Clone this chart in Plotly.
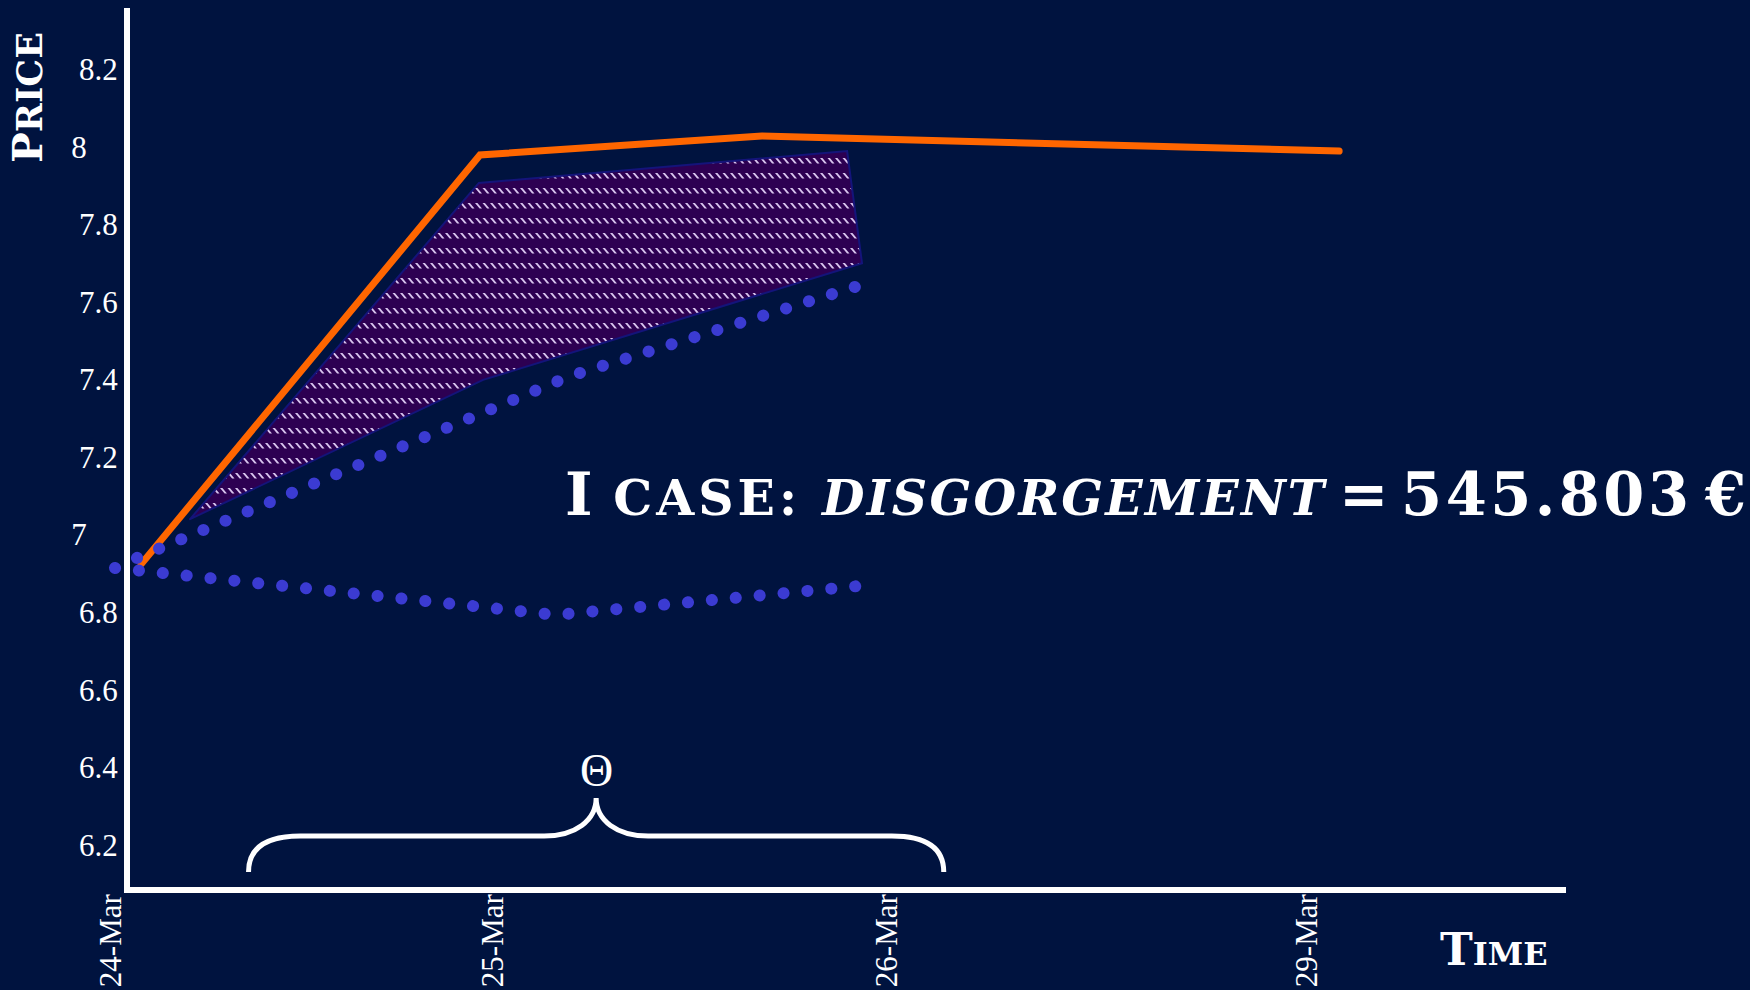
import plotly.graph_objects as go

# ---------------- data ----------------
time_tick_pos = [0.0, 1.0, 2.03, 3.13]
time_tick_text = ["24-Mar", "25-Mar", "26-Mar", "29-Mar"]

price_ticks = [6.2, 6.4, 6.6, 6.8, 7.0, 7.2, 7.4, 7.6, 7.8, 8.0, 8.2]
NB = "\u00a0" * 4  # the whole-number labels sit further left in the reference
price_tick_text = ["6.2", "6.4", "6.6", "6.8", "7" + NB, "7.2", "7.4", "7.6", "7.8", "8" + NB, "8.2"]

price_x = [0.079, 0.966, 1.704, 3.215]
price_y = [6.924, 7.979, 8.028, 7.989]

band_x = [0.207, 0.963, 1.927, 1.966, 0.974, 0.207]
band_y = [7.040, 7.907, 7.989, 7.700, 7.399, 7.040]

upper_x = [0.068, 1.202, 1.997]
upper_y = [6.940, 7.409, 7.654]

lower_x = [0.0105, 1.165, 1.984]
lower_y = [6.914, 6.793, 6.870]

theta_window = [0.36, 2.18]
theta_label = "Θ"
disgorgement_value = 545.803

# ---------------- styling ----------------
BG = "#00133f"
ORANGE = "#ff6600"
DOT = "#3b3bd2"
PURPLE = "#2d0052"
HATCH = "#d8c4ee"
W, H = 1750, 990
ML, MR, MT, MB = 100, 184, 8, 103
PW = W - ML - MR
PH = H - MT - MB


def px_x(px):
    return (px - ML) / PW


def px_y(py):
    return (H - MB - py) / PH


fig = go.Figure()

# empty trace so the baseline axis (x2) gets its subplot (drawn first, underneath)
fig.add_trace(go.Scatter(x=[], y=[], xaxis="x2", yaxis="y", showlegend=False, hoverinfo="skip"))

# hatched band: rows of short "\" dashes on purple
dash_tile = "M0,0 h2.4 l4.6,5.5 h-2.4 Z M7.5,0 h2.4 l4.6,5.5 h-2.4 Z"
fig.add_trace(go.Scatter(
    x=band_x, y=band_y, mode="lines", fill="toself", fillcolor=PURPLE,
    line=dict(color="#14147a", width=2),
    fillpattern=dict(path=dash_tile, size=15, fgcolor=HATCH, bgcolor=PURPLE, fgopacity=1),
    hoverinfo="skip", showlegend=False))

fig.add_trace(go.Scatter(
    x=price_x, y=price_y, mode="lines",
    line=dict(color=ORANGE, width=7), showlegend=False))

for xs, ys in ((upper_x, upper_y), (lower_x, lower_y)):
    fig.add_trace(go.Scatter(
        x=xs, y=ys, mode="lines",
        line=dict(color=DOT, width=12, dash="0.1px,23.9px"), showlegend=False))

# brace spanning the theta window
x0, x1 = theta_window
xc = (x0 + x1) / 2
yb, ym, yt = 6.130, 6.223, 6.321
c = 0.136
brace = (f"M {x0},{yb} Q {x0},{ym} {x0 + c},{ym} L {xc - c},{ym} "
         f"C {xc - 0.055},{ym} {xc},{ym + 0.04} {xc},{yt} "
         f"C {xc},{ym + 0.04} {xc + 0.055},{ym} {xc + c},{ym} "
         f"L {x1 - c},{ym} Q {x1},{ym} {x1},{yb}")
fig.add_shape(type="path", path=brace, xref="x", yref="y",
              line=dict(color="white", width=5))

fig.add_annotation(x=xc, y=6.391, xref="x", yref="y", text=theta_label,
                   showarrow=False, font=dict(family="Liberation Serif", size=46, color="white"))

fig.add_annotation(
    x=px_x(1155), y=px_y(495), xref="paper", yref="paper", xanchor="center", yanchor="middle",
    text=("<b>I <span style='font-size:49px;letter-spacing:4px'>CASE: </span>"
          "<i><span style='font-size:49px;letter-spacing:2.2px'>DISGORGEMENT</span></i>"
          "<span style='font-size:36px'> </span>=<span style='font-size:36px'> </span>"
          f"<span style='letter-spacing:3.5px'>{disgorgement_value:.3f}</span>"
          "<span style='font-size:36px'> </span>€</b>"),
    showarrow=False, font=dict(family="DejaVu Serif", size=59, color="white"))

fig.add_annotation(
    x=px_x(28), y=px_y(98), xref="paper", yref="paper", xanchor="center", yanchor="middle",
    textangle=-90, text="<b>P<span style='font-size:35px'>RICE</span></b>",
    showarrow=False, font=dict(family="DejaVu Serif", size=41, color="white"))

fig.add_annotation(
    x=px_x(1494), y=px_y(949), xref="paper", yref="paper", xanchor="center", yanchor="middle",
    text="<b>T<span style='font-size:32px'>IME</span></b>",
    showarrow=False, font=dict(family="DejaVu Serif", size=44, color="white"))

fig.update_layout(
    width=W, height=H,
    margin=dict(l=ML, r=MR, t=MT, b=MB, pad=0),
    paper_bgcolor=BG, plot_bgcolor="rgba(0,0,0,0)",
    showlegend=False,
    xaxis=dict(
        range=[(ML - 111) / 382, (W - MR - 111) / 382], automargin=False,
        tickmode="array", tickvals=time_tick_pos, ticktext=time_tick_text,
        tickangle=-90, tickfont=dict(family="Liberation Serif", size=31, color="white"),
        ticklabelstandoff=0,
        showline=False, ticks="", showgrid=False, zeroline=False),
    # axis carrying only the bottom baseline, starting at the price axis
    xaxis2=dict(
        domain=[px_x(124), 1], anchor="y", range=[0, 1], automargin=False,
        showline=True, linecolor="white", linewidth=6, ticks="",
        showticklabels=False, showgrid=False, zeroline=False),
    yaxis=dict(
        range=[6.0914, 8.358], anchor="free", position=px_x(127), automargin=False,
        tickmode="array", tickvals=price_ticks, ticktext=price_tick_text,
        tickfont=dict(family="Liberation Serif", size=31, color="white"),
        showline=True, linecolor="white", linewidth=6, ticks="",
        showgrid=False, zeroline=False),
)

post = ("var s=document.createElement('style');"
        "s.textContent='body{margin:0 !important;overflow:hidden}"
        " .scatterlayer .js-line{stroke-linecap:round}';"
        "document.head.appendChild(s);")
fig.write_html("out.html", post_script=post, config={"displayModeBar": False})
